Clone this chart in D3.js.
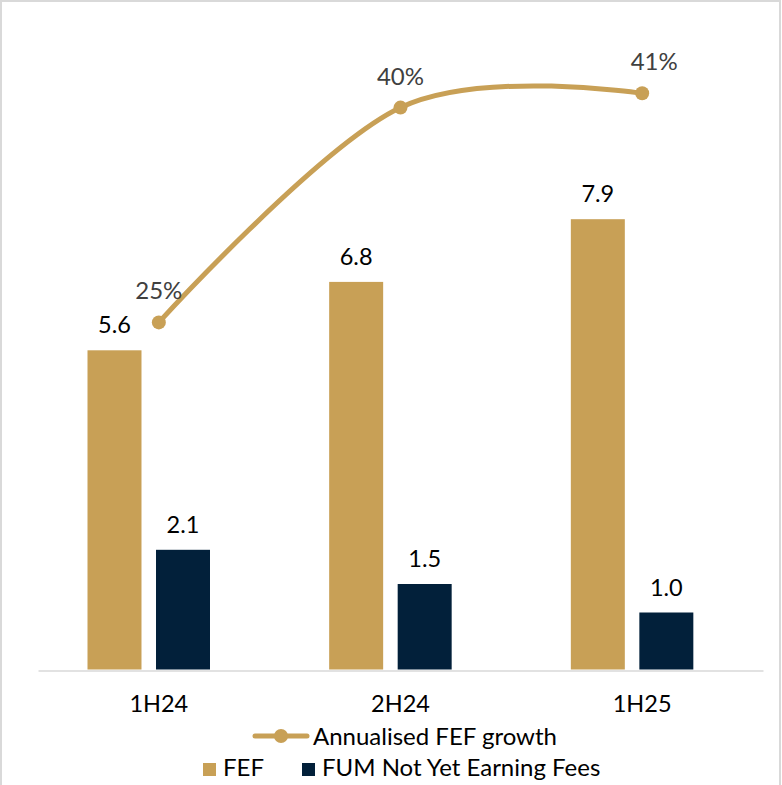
<!DOCTYPE html>
<html>
<head>
<meta charset="utf-8">
<script src="https://cdn.jsdelivr.net/npm/d3@7/dist/d3.min.js"></script>
<style>
  html, body { margin: 0; padding: 0; background: #ffffff; }
  svg { display: block; font-family: Lato, "Open Sans", sans-serif; }
</style>
</head>
<body>
<svg id="chart" width="782" height="785"></svg>
<script>
// Half-year periods
const periods = ["1H24", "2H24", "1H25"];
// Fee earning funds ($bn)
const fef = [5.6, 6.8, 7.9];
// FUM not yet earning fees ($bn)
const notYetEarning = [2.1, 1.5, 1.0];
// Annualised FEF growth (%)
const fefGrowth = [25, 40, 41];

const seriesNames = ["FEF", "FUM Not Yet Earning Fees"];
const lineName = "Annualised FEF growth";

const GOLD = "#C8A056";
const NAVY = "#02203A";

const svg = d3.select("#chart");

// frame
svg.append("rect")
  .attr("x", 1).attr("y", 1)
  .attr("width", 779).attr("height", 800)
  .attr("fill", "#ffffff")
  .attr("stroke", "#d9d9d9")
  .attr("stroke-width", 2);

const x = d3.scaleBand().domain(periods).range([38, 763]).padding(0);
const inner = d3.scaleBand().domain(seriesNames)
  .range([49.5, 172]).paddingInner(0.212).paddingOuter(0);
const y = d3.scaleLinear().domain([0, 11]).range([669.5, 42.5]);
const y2 = d3.scaleLinear().domain([0, 45]).range([680.4, 36]);

const rows = periods.map((p, i) => ({
  period: p,
  values: [
    { name: seriesNames[0], value: fef[i], color: GOLD },
    { name: seriesNames[1], value: notYetEarning[i], color: NAVY }
  ]
}));

// bars
const groups = svg.append("g").selectAll("g")
  .data(rows).join("g")
  .attr("transform", d => `translate(${x(d.period)},0)`);

groups.selectAll("rect")
  .data(d => d.values).join("rect")
  .attr("x", d => inner(d.name))
  .attr("width", inner.bandwidth())
  .attr("y", d => y(d.value))
  .attr("height", d => y(0) - y(d.value))
  .attr("fill", d => d.color);

groups.selectAll("text.val")
  .data(d => d.values).join("text")
  .attr("class", "val")
  .attr("x", d => inner(d.name) + inner.bandwidth() / 2)
  .attr("y", d => y(d.value) - 17)
  .attr("text-anchor", "middle")
  .attr("font-size", 23.5)
  .attr("fill", "#000000")
  .text(d => d3.format(".1f")(d.value));

// category axis
const axis = svg.append("g")
  .attr("transform", "translate(0,670.5)")
  .call(d3.axisBottom(x).tickSize(0).tickSizeOuter(0));
axis.select(".domain").attr("stroke", "#d9d9d9").attr("stroke-width", 1.6);
axis.selectAll(".tick text")
  .attr("y", 41.5).attr("dy", 0)
  .attr("font-size", 23.5)
  .attr("font-family", "Lato, sans-serif")
  .attr("fill", "#000000");

// growth line
const pts = periods.map((p, i) => [x(p) + x.bandwidth() / 2, y2(fefGrowth[i])]);
const line = d3.line().curve(d3.curveCardinal.tension(0));

svg.append("path")
  .attr("d", line(pts))
  .attr("fill", "none")
  .attr("stroke", GOLD)
  .attr("stroke-width", 5)
  .attr("stroke-linecap", "round");

svg.append("g").selectAll("circle")
  .data(pts).join("circle")
  .attr("cx", d => d[0]).attr("cy", d => d[1])
  .attr("r", 7)
  .attr("fill", GOLD);

// small sideways nudges for the growth labels
const growthLabelNudge = [0, 0, 12];
svg.append("g").selectAll("text")
  .data(fefGrowth).join("text")
  .attr("x", (d, i) => pts[i][0] + growthLabelNudge[i])
  .attr("y", (d, i) => pts[i][1] - 23)
  .attr("text-anchor", "middle")
  .attr("font-size", 24)
  .attr("fill", "#404040")
  .text(d => d + "%");

// legend
const lg = svg.append("g");
lg.append("line")
  .attr("x1", 255).attr("x2", 307).attr("y1", 736).attr("y2", 736)
  .attr("stroke", GOLD).attr("stroke-width", 5).attr("stroke-linecap", "round");
lg.append("circle").attr("cx", 281).attr("cy", 736).attr("r", 7).attr("fill", GOLD);
lg.append("text").attr("x", 313).attr("y", 745)
  .attr("font-size", 24).attr("fill", "#000000").text(lineName);

const boxX = [203, 302];
const boxColors = [GOLD, NAVY];
seriesNames.forEach((name, i) => {
  lg.append("rect")
    .attr("x", boxX[i]).attr("y", 763)
    .attr("width", 13).attr("height", 13)
    .attr("fill", boxColors[i]);
  lg.append("text")
    .attr("x", boxX[i] + 20).attr("y", 776)
    .attr("font-size", 24).attr("fill", "#000000").text(name);
});
</script>
</body>
</html>
